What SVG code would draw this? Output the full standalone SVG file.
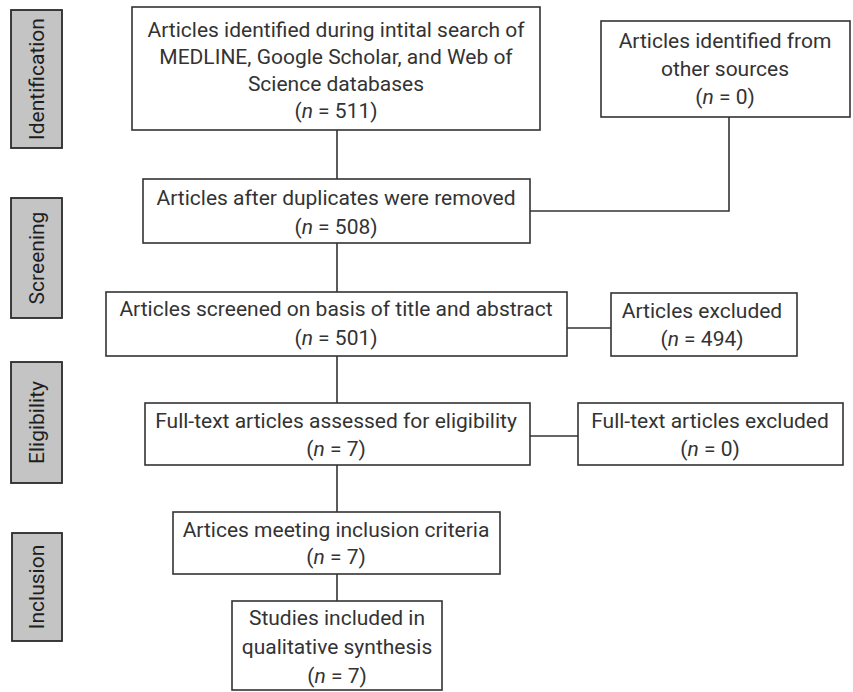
<svg xmlns="http://www.w3.org/2000/svg" width="853" height="692" viewBox="0 0 853 692">
<style>
.box{fill:#fff;stroke:#333;stroke-width:1.6}
.side{fill:#c4c4c4;stroke:#2a2a2a;stroke-width:1.8}
.t{font-family:Roboto,"Liberation Sans",sans-serif;font-size:21px;fill:#333;text-anchor:middle}
.s{fill:#1e1e1e}
.c{fill:none;stroke:#333;stroke-width:1.6}
</style>
<rect width="853" height="692" fill="#fff"/>
<g id="connectors">
<line class="c" x1="337" y1="130" x2="337" y2="179"/>
<polyline class="c" points="729,117 729,211 530,211"/>
<line class="c" x1="337" y1="243" x2="337" y2="292"/>
<line class="c" x1="567" y1="328" x2="611" y2="328"/>
<line class="c" x1="337" y1="356" x2="337" y2="403"/>
<line class="c" x1="530" y1="436" x2="578" y2="436"/>
<line class="c" x1="337" y1="465" x2="337" y2="512"/>
<line class="c" x1="337" y1="574" x2="337" y2="601"/>
</g>
<g id="side-identification">
<rect class="side" x="11" y="10" width="51" height="138"/>
<text class="t s" transform="translate(44,79) rotate(-90)">Identification</text>
</g>
<g id="side-screening">
<rect class="side" x="11" y="198" width="51" height="120"/>
<text class="t s" transform="translate(44,258) rotate(-90)">Screening</text>
</g>
<g id="side-eligibility">
<rect class="side" x="11" y="362" width="51" height="121"/>
<text class="t s" transform="translate(44,422.5) rotate(-90)">Eligibility</text>
</g>
<g id="side-inclusion">
<rect class="side" x="12" y="533" width="50" height="108"/>
<text class="t s" transform="translate(44,587) rotate(-90)">Inclusion</text>
</g>
<g id="n1">
<rect class="box" x="132" y="7" width="408" height="123"/>
<text class="t" x="336" y="37">Articles identified during intital search of</text>
<text class="t" x="336" y="64">MEDLINE, Google Scholar, and Web of</text>
<text class="t" x="336" y="91">Science databases</text>
<text class="t" x="336" y="118">(<tspan font-style="italic">n</tspan> = 511)</text>
</g>
<g id="n2">
<rect class="box" x="601" y="21" width="249" height="96"/>
<text class="t" x="725" y="48">Articles identified from</text>
<text class="t" x="725" y="76">other sources</text>
<text class="t" x="725" y="104">(<tspan font-style="italic">n</tspan> = 0)</text>
</g>
<g id="n3">
<rect class="box" x="143" y="179" width="387" height="64"/>
<text class="t" x="336" y="205">Articles after duplicates were removed</text>
<text class="t" x="336" y="234">(<tspan font-style="italic">n</tspan> = 508)</text>
</g>
<g id="n4">
<rect class="box" x="106" y="292" width="461" height="64"/>
<text class="t" x="336" y="316">Articles screened on basis of title and abstract</text>
<text class="t" x="336" y="345">(<tspan font-style="italic">n</tspan> = 501)</text>
</g>
<g id="n5">
<rect class="box" x="611" y="293" width="186" height="63"/>
<text class="t" x="702" y="318">Articles excluded</text>
<text class="t" x="702" y="346">(<tspan font-style="italic">n</tspan> = 494)</text>
</g>
<g id="n6">
<rect class="box" x="145" y="403" width="385" height="62"/>
<text class="t" x="336" y="428">Full-text articles assessed for eligibility</text>
<text class="t" x="336" y="456">(<tspan font-style="italic">n</tspan> = 7)</text>
</g>
<g id="n7">
<rect class="box" x="578" y="403" width="265" height="62"/>
<text class="t" x="710" y="428">Full-text articles excluded</text>
<text class="t" x="710" y="456">(<tspan font-style="italic">n</tspan> = 0)</text>
</g>
<g id="n8">
<rect class="box" x="173" y="512" width="327" height="62"/>
<text class="t" x="336" y="537">Artices meeting inclusion criteria</text>
<text class="t" x="336" y="564">(<tspan font-style="italic">n</tspan> = 7)</text>
</g>
<g id="n9">
<rect class="box" x="232" y="601" width="210" height="89"/>
<text class="t" x="337" y="625">Studies included in</text>
<text class="t" x="337" y="654">qualitative synthesis</text>
<text class="t" x="337" y="683">(<tspan font-style="italic">n</tspan> = 7)</text>
</g>
</svg>
